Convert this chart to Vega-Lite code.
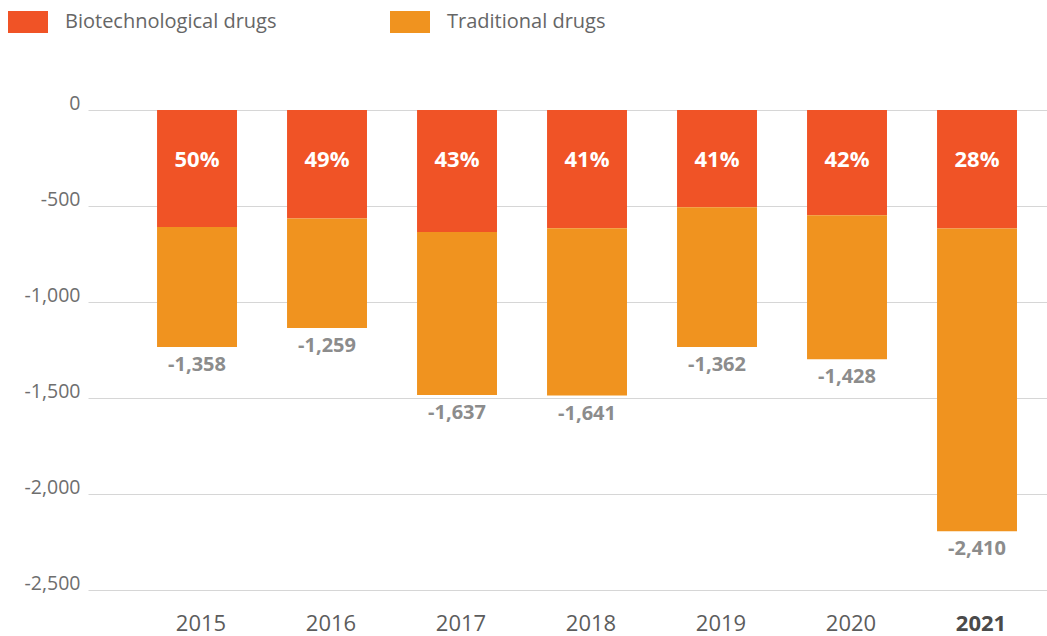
{
  "$schema": "https://vega.github.io/schema/vega-lite/v6.json",
  "width": 959,
  "height": 480,
  "autosize": {"type": "none"},
  "padding": {"left": 88, "top": 110, "right": 0, "bottom": 46},
  "background": "white",
  "config": {"font": "Open Sans", "view": {"stroke": null}},
  "data": {
    "values": [
      {"year": "2015", "Biotechnological drugs": -610, "Traditional drugs": -625, "pct": "50%", "total_label": "-1,358"},
      {"year": "2016", "Biotechnological drugs": -565, "Traditional drugs": -571, "pct": "49%", "total_label": "-1,259"},
      {"year": "2017", "Biotechnological drugs": -636, "Traditional drugs": -848, "pct": "43%", "total_label": "-1,637"},
      {"year": "2018", "Biotechnological drugs": -616, "Traditional drugs": -871, "pct": "41%", "total_label": "-1,641"},
      {"year": "2019", "Biotechnological drugs": -506, "Traditional drugs": -729, "pct": "41%", "total_label": "-1,362"},
      {"year": "2020", "Biotechnological drugs": -548, "Traditional drugs": -750, "pct": "42%", "total_label": "-1,428"},
      {"year": "2021", "Biotechnological drugs": -617, "Traditional drugs": -1577, "pct": "28%", "total_label": "-2,410"}
    ]
  },
  "encoding": {
    "x": {
      "field": "year",
      "type": "ordinal",
      "scale": {"paddingInner": 0.385, "paddingOuter": 0.381, "align": 0.697},
      "axis": {
        "title": null,
        "domain": false,
        "ticks": false,
        "labelAngle": 0,
        "labelFontSize": 22,
        "labelColor": {"condition": {"test": "datum.value == '2021'", "value": "#4a4a4a"}, "value": "#5c5c5c"},
        "labelFontWeight": {"condition": {"test": "datum.value == '2021'", "value": "bold"}, "value": "normal"},
        "labelBaseline": "alphabetic",
        "labelPadding": 40,
        "labelOffset": 4
      }
    }
  },
  "layer": [
    {
      "transform": [{"fold": ["Biotechnological drugs", "Traditional drugs"], "as": ["type", "value"]}],
      "mark": {"type": "bar"},
      "encoding": {
        "y": {
          "field": "value",
          "type": "quantitative",
          "stack": "zero",
          "scale": {"domain": [-2500, 0], "nice": false},
          "axis": {
            "title": null,
            "domain": false,
            "ticks": false,
            "values": [0, -500, -1000, -1500, -2000, -2500],
            "format": ",d",
            "labelExpr": "replace(datum.label, '\u2212', '-')",
            "labelFontSize": 19.5,
            "labelColor": "#6e6e6e",
            "labelPadding": 8,
            "labelBaseline": "alphabetic",
            "labelOffset": -1,
            "gridColor": "#d6d6d6",
            "gridWidth": 1
          }
        },
        "order": {"field": "type", "sort": "ascending"},
        "color": {
          "field": "type",
          "type": "nominal",
          "scale": {"domain": ["Biotechnological drugs", "Traditional drugs"], "range": ["#F05326", "#F0931F"]},
          "legend": {
            "title": null,
            "orient": "none",
            "legendX": -80,
            "legendY": -108,
            "direction": "horizontal",
            "columns": 2,
            "columnPadding": 113,
            "padding": 0,
            "symbolType": "M-1,-0.55H1V0.55H-1Z",
            "symbolSize": 1600,
            "symbolStrokeWidth": 0,
            "labelFontSize": 20,
            "labelLimit": 400,
            "labelColor": "#666666",
            "labelOffset": 17
          }
        }
      }
    },
    {
      "mark": {"type": "rule", "color": "#b8b8b8", "strokeWidth": 2},
      "encoding": {"y": {"datum": 0}}
    },
    {
      "mark": {"type": "text", "color": "white", "fontWeight": "bold", "fontSize": 22, "baseline": "middle", "dy": 50},
      "encoding": {
        "y": {"datum": 0},
        "text": {"field": "pct"}
      }
    },
    {
      "transform": [{"fold": ["Biotechnological drugs", "Traditional drugs"], "as": ["type", "value"]}],
      "mark": {"type": "text", "color": "#8c8c8c", "fontWeight": "bold", "fontSize": 20, "baseline": "middle", "dy": 18},
      "encoding": {
        "y": {"aggregate": "sum", "field": "value", "type": "quantitative"},
        "text": {"field": "total_label"}
      }
    }
  ]
}
